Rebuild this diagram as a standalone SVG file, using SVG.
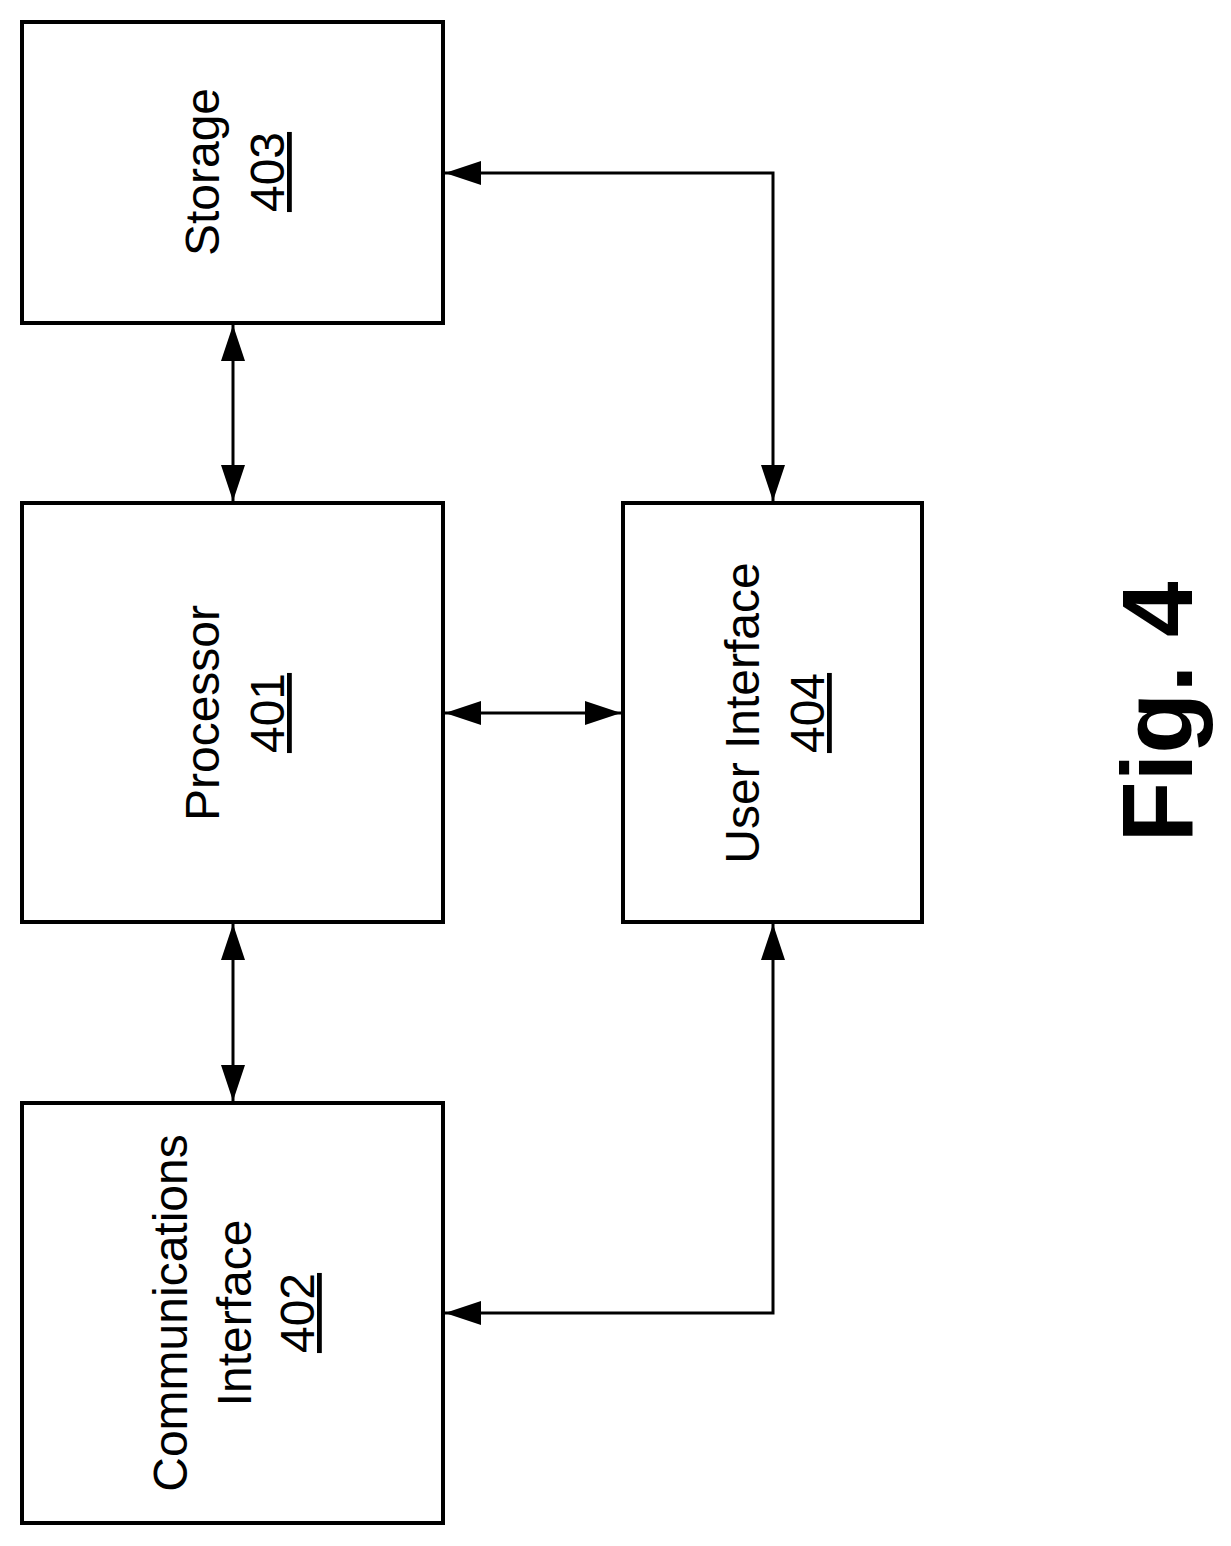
<svg xmlns="http://www.w3.org/2000/svg" width="1231" height="1546" viewBox="0 0 1231 1546">
<style>
.box{fill:#fff;stroke:#000;stroke-width:4}
.c{fill:none;stroke:#000;stroke-width:3}
text{font-family:"Liberation Sans",Arial,sans-serif;font-size:48px;text-anchor:middle;fill:#000}
.u{text-decoration:underline}
</style>
<defs>
<marker id="a" viewBox="0 0 36 24" refX="36" refY="12" markerWidth="36" markerHeight="24" markerUnits="userSpaceOnUse" orient="auto-start-reverse"><path d="M0,0L36,12L0,24z"/></marker>
</defs>
<rect width="1231" height="1546" fill="#fff"/>
<g id="connectors">
<line class="c" x1="233" y1="325" x2="233" y2="501" marker-start="url(#a)" marker-end="url(#a)"/>
<line class="c" x1="233" y1="924" x2="233" y2="1101" marker-start="url(#a)" marker-end="url(#a)"/>
<line class="c" x1="445" y1="713" x2="621" y2="713" marker-start="url(#a)" marker-end="url(#a)"/>
<polyline class="c" points="445,173 773,173 773,501" marker-start="url(#a)" marker-end="url(#a)"/>
<polyline class="c" points="445,1313 773,1313 773,924" marker-start="url(#a)" marker-end="url(#a)"/>
</g>
<g id="storage"><rect class="box" x="22" y="22" width="421" height="301"/>
<g transform="translate(233,172) rotate(-90)"><text y="-14">Storage</text><text class="u" y="51">403</text></g></g>
<g id="processor"><rect class="box" x="22" y="503" width="421" height="419"/>
<g transform="translate(233,713) rotate(-90)"><text y="-14">Processor</text><text class="u" y="51">401</text></g></g>
<g id="comm"><rect class="box" x="22" y="1103" width="421" height="420"/>
<g transform="translate(233,1313) rotate(-90)"><text y="-46">Communications</text><text y="18">Interface</text><text class="u" y="81">402</text></g></g>
<g id="ui"><rect class="box" x="623" y="503" width="299" height="419"/>
<g transform="translate(773,713) rotate(-90)"><text y="-14">User Interface</text><text class="u" y="51">404</text></g></g>
<g id="fig"><text transform="translate(1192,712) rotate(-90)" style="font-size:100px;font-weight:bold">Fig. 4</text></g>
</svg>
